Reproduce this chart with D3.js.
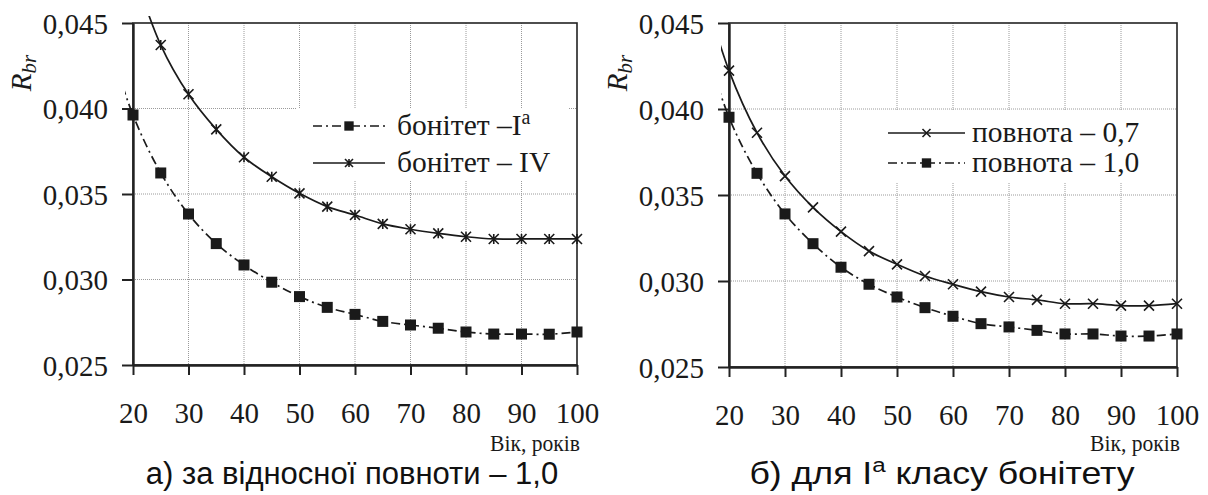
<!DOCTYPE html>
<html><head><meta charset="utf-8">
<script src="https://cdn.jsdelivr.net/npm/d3@7/dist/d3.min.js"></script>
<style>
html,body{margin:0;padding:0;background:#fff;}
svg{display:block;}
.serif{font-family:"Liberation Serif","DejaVu Serif",serif;}
.sans{font-family:"Liberation Sans",Arial,sans-serif;}
</style></head>
<body>
<svg id="chart" width="1208" height="495"></svg>
<script>
// ---- data ----
const ages = [15,20,25,30,35,40,45,50,55,60,65,70,75,80,85,90,95,100];
const leftIa  = [0.0445,0.03962,0.03623,0.03383,0.0321,0.03085,0.02984,0.0290,0.02837,0.02796,0.02755,0.02734,0.02715,0.02693,0.02681,0.02681,0.0268,0.02693];
const leftIV  = [0.0540,0.0482,0.04371,0.04083,0.03878,0.03715,0.03601,0.03504,0.03426,0.03377,0.03325,0.03294,0.0327,0.0325,0.03237,0.03237,0.03237,0.03237];
const rightP07 = [0.0475,0.04223,0.03862,0.0361,0.03428,0.03287,0.03174,0.03097,0.03029,0.02981,0.02938,0.02907,0.0289,0.02868,0.02868,0.02857,0.02857,0.02868];
const rightP10 = [0.0445,0.03952,0.03626,0.0339,0.03217,0.0308,0.02981,0.02907,0.02845,0.02795,0.02752,0.02733,0.02713,0.02692,0.02692,0.0268,0.0268,0.02692];
const xTicks = [20,30,40,50,60,70,80,90,100];
const yTicks = [0.025,0.030,0.035,0.040,0.045];
const xLabel = "Вік, років";
const captionLeft = "а) за відносної повноти – 1,0";
const legendLeft = ["бонітет –I", "бонітет – IV"];
const legendRight = ["повнота – 0,7", "повнота – 1,0"];

const svg = d3.select("#chart");
const fmt = v => d3.format(".3f")(v).replace(".", ",");

function square(g, x, y, s) {
  g.append("rect").attr("x", x - s/2).attr("y", y - s/2).attr("width", s).attr("height", s).attr("fill", "#1a1a1a");
}
function star(g, x, y, s) {
  const h = s/2;
  g.append("path").attr("d", `M${x-h},${y-h}L${x+h},${y+h}M${x-h},${y+h}L${x+h},${y-h}M${x},${y-h}L${x},${y+h}`)
    .attr("stroke", "#1a1a1a").attr("stroke-width", 1.6).attr("fill", "none");
}
function cross(g, x, y, s) {
  const h = s/2;
  g.append("path").attr("d", `M${x-h},${y-h}L${x+h},${y+h}M${x-h},${y+h}L${x+h},${y-h}`)
    .attr("stroke", "#1a1a1a").attr("stroke-width", 1.6).attr("fill", "none");
}

function panel(opt) {
  const x = d3.scaleLinear().domain([20, 100]).range([opt.x0, opt.x1]);
  const y = d3.scaleLinear().domain([0.025, 0.045]).range([opt.y1, opt.y0]);
  const g = svg.append("g");

  // grid
  g.append("g").selectAll("line").data(xTicks.slice(1, -1)).join("line")
    .attr("x1", d => x(d)).attr("x2", d => x(d)).attr("y1", opt.y0).attr("y2", opt.y1)
    .attr("stroke", "#9a9a9a").attr("stroke-width", 1).attr("stroke-dasharray", "1,1");
  g.append("g").selectAll("line").data(yTicks.slice(1, -1)).join("line")
    .attr("x1", opt.x0).attr("x2", opt.x1).attr("y1", d => y(d)).attr("y2", d => y(d))
    .attr("stroke", "#9a9a9a").attr("stroke-width", 1).attr("stroke-dasharray", "1,1");

  // legend box (white, covers grid)
  g.append("rect").attr("x", opt.lg.bx0).attr("y", opt.lg.by0)
    .attr("width", opt.lg.bx1 - opt.lg.bx0).attr("height", opt.lg.by1 - opt.lg.by0).attr("fill", "#fff");

  // frame
  g.append("rect").attr("x", opt.x0).attr("y", opt.y0).attr("width", opt.x1 - opt.x0).attr("height", opt.y1 - opt.y0)
    .attr("fill", "none").attr("stroke", "#222").attr("stroke-width", 1.6);

  // axes
  const ax = g.append("g").attr("transform", `translate(0,${opt.y1})`)
    .call(d3.axisBottom(x).tickValues(xTicks).tickSize(10).tickSizeOuter(0).tickPadding(27).tickFormat(d3.format("d")));
  const ay = g.append("g").attr("transform", `translate(${opt.x0},0)`)
    .call(d3.axisLeft(y).tickValues(yTicks).tickSize(11).tickSizeOuter(0).tickPadding(14).tickFormat(fmt));
  [ax, ay].forEach(a => {
    a.select(".domain").attr("stroke", "#222").attr("stroke-width", 2.4);
    a.selectAll(".tick line").attr("stroke", "#222").attr("stroke-width", 2);
    a.selectAll("text").attr("class", "serif").attr("font-size", 29).attr("fill", "#1a1a1a");
  });
  ay.selectAll("text").attr("dy", "0.36em");

  // clip
  const cid = "clip" + opt.id;
  svg.append("clipPath").attr("id", cid).append("rect")
    .attr("x", opt.x0 - 8).attr("y", opt.y0 - 7).attr("width", opt.x1 - opt.x0 + 8).attr("height", opt.y1 - opt.y0 + 7);
  const plot = g.append("g").attr("clip-path", `url(#${cid})`);

  const line = d3.line().x(d => x(d[0])).y(d => y(d[1])).curve(d3.curveCatmullRom.alpha(0.5));
  opt.series.forEach(s => {
    const pts = ages.map((a, i) => [a, s.values[i]]);
    plot.append("path").attr("d", line(pts)).attr("fill", "none").attr("stroke", "#1a1a1a")
      .attr("stroke-width", 1.7).attr("stroke-dasharray", s.dash || null);
    const mg = g.append("g");
    pts.filter(p => p[0] >= 20 && y(p[1]) >= opt.y0).forEach(p => s.marker(mg, x(p[0]), y(p[1]), s.size));
  });

  // legend entries
  opt.series.forEach((s, i) => {
    const ly = opt.lg.rows[i];
    const lg = g.append("g");
    lg.append("line").attr("x1", opt.lg.lx0).attr("x2", opt.lg.lx1).attr("y1", ly).attr("y2", ly)
      .attr("stroke", "#1a1a1a").attr("stroke-width", 1.7).attr("stroke-dasharray", s.dash || null);
    s.marker(lg, (opt.lg.lx0 + opt.lg.lx1) / 2, ly, s.size * (s.legendScale || 0.85));
    const t = lg.append("text").attr("class", "serif").attr("x", opt.lg.tx).attr("y", ly + 9)
      .attr("font-size", 29.5).attr("fill", "#1a1a1a").text(s.label);
    if (s.sup) t.append("tspan").attr("dy", -11).attr("font-size", 20).text(s.sup);
  });

  // y label R_br
  const yl = g.append("text").attr("class", "serif").attr("transform", `translate(${opt.ylx},${opt.yly}) rotate(-90)`)
    .attr("text-anchor", "middle").attr("font-style", "italic")
    .attr("font-size", 29).attr("fill", "#1a1a1a");
  yl.append("tspan").text("R");
  yl.append("tspan").attr("font-size", 21).attr("dy", 5).text("br");

  // x label
  g.append("text").attr("class", "serif").attr("transform", `translate(${opt.x1 + 3},451) scale(0.9,1)`)
    .attr("text-anchor", "end").attr("font-size", 24).attr("fill", "#1a1a1a").text(xLabel);

  // caption
  const cap = g.append("text").attr("class", "sans")
    .attr("transform", `translate(${opt.capx},484) scale(${opt.capScale || 1},1)`).attr("text-anchor", "middle")
    .attr("font-size", 31).attr("fill", "#111");
  opt.caption(cap);
}

panel({
  id: "L", x0: 133, x1: 577, y0: 23, y1: 365, ylx: 31, yly: 73, capx: 352,
  lg: { bx0: 297, bx1: 568, by0: 108, by1: 180, lx0: 313, lx1: 385, tx: 397, rows: [126, 163] },
  series: [
    { values: leftIa, marker: square, size: 11, dash: "9,4,2,4", label: legendLeft[0], sup: "a", legendScale: 0.85 },
    { values: leftIV, marker: star, size: 10, label: legendLeft[1], legendScale: 0.8 }
  ],
  caption: t => t.text(captionLeft)
});

panel({
  id: "R", x0: 729, x1: 1177, y0: 23, y1: 367, ylx: 627, yly: 73, capx: 942, capScale: 1.15,
  lg: { bx0: 858, bx1: 1168, by0: 110, by1: 182, lx0: 888, lx1: 965, tx: 972, rows: [133, 163] },
  series: [
    { values: rightP07, marker: cross, size: 10, label: legendRight[0], legendScale: 0.8 },
    { values: rightP10, marker: square, size: 11, dash: "9,4,2,4", label: legendRight[1], legendScale: 0.85 }
  ],
  caption: t => {
    t.append("tspan").text("б) для I");
    t.append("tspan").attr("dy", -12).attr("font-size", 21).text("a");
    t.append("tspan").attr("dy", 12).text(" класу бонітету");
  }
});
</script>
</body></html>
